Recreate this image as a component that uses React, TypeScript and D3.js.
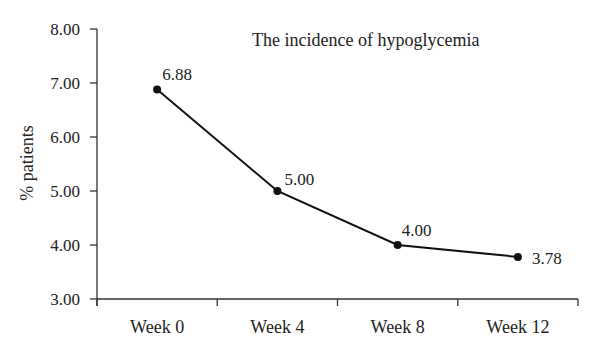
import React from "react";
import * as d3 from "d3";

const categories = ["Week 0", "Week 4", "Week 8", "Week 12"];
const values = [6.88, 5.0, 4.0, 3.78];
const yTicks = [3, 4, 5, 6, 7, 8];
const labelOffsets = [
  { dx: 5, dy: -9 },
  { dx: 7, dy: -6 },
  { dx: 4, dy: -9 },
  { dx: 14, dy: 7 },
];
const title = "The incidence of hypoglycemia";
const yLabel = "% patients";

export default function App() {
  const W = 600, H = 355;
  const left = 97, right = 578, top = 29, bottom = 299;
  const x = d3.scaleBand<string>().domain(categories).range([left, right]).padding(0);
  const y = d3.scaleLinear().domain([3, 8]).range([bottom, top]);
  const line = d3
    .line<number>()
    .x((_, i) => (x(categories[i]) as number) + x.bandwidth() / 2)
    .y((d) => y(d));
  const fs = { fontFamily: "Liberation Serif" };
  const axisColor = "#333";
  const textColor = "#222";
  const xTickPos = [...categories.map((c) => x(c) as number), right];
  return (
    <svg
      width={W}
      height={H}
      style={{ position: "absolute", left: 0, top: 0, background: "#fff" }}
    >
      {/* y axis */}
      <line x1={left} x2={left} y1={top} y2={bottom + 7} stroke={axisColor} strokeWidth={1.3} />
      {yTicks.map((t) => (
        <g key={t}>
          <line x1={left - 7} x2={left} y1={y(t)} y2={y(t)} stroke={axisColor} strokeWidth={1.3} />
          <text x={80} y={y(t) + 5.8} textAnchor="end" fontSize={17} fill={textColor} style={fs}>
            {d3.format(".2f")(t)}
          </text>
        </g>
      ))}
      {/* x axis */}
      <line x1={left} x2={right} y1={bottom} y2={bottom} stroke={axisColor} strokeWidth={1.3} />
      {xTickPos.map((p, i) => (
        <line key={i} x1={p} x2={p} y1={bottom} y2={bottom + 7} stroke={axisColor} strokeWidth={1.3} />
      ))}
      {categories.map((c) => (
        <text
          key={c}
          x={(x(c) as number) + x.bandwidth() / 2}
          y={333}
          textAnchor="middle"
          fontSize={18}
          fill={textColor}
          style={fs}
        >
          {c}
        </text>
      ))}
      {/* y label */}
      <text
        transform={`translate(33, 163) rotate(-90)`}
        textAnchor="middle"
        fontSize={18}
        fill={textColor}
        style={fs}
      >
        {yLabel}
      </text>
      {/* title */}
      <text x={252} y={46} fontSize={18} fill={textColor} style={fs}>
        {title}
      </text>
      {/* line */}
      <path d={line(values) || ""} fill="none" stroke="#111" strokeWidth={2} />
      {values.map((v, i) => {
        const cx = (x(categories[i]) as number) + x.bandwidth() / 2;
        const cy = y(v);
        return (
          <g key={i}>
            <circle cx={cx} cy={cy} r={4} fill="#111" />
            <text
              x={cx + labelOffsets[i].dx}
              y={cy + labelOffsets[i].dy}
              fontSize={17}
              fill={textColor}
              style={fs}
            >
              {d3.format(".2f")(v)}
            </text>
          </g>
        );
      })}
    </svg>
  );
}
